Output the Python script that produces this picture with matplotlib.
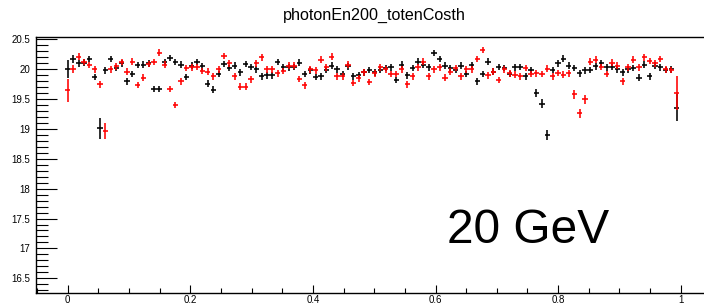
import numpy as np
import matplotlib
matplotlib.use("Agg")
import matplotlib.pyplot as plt
from matplotlib.ticker import MultipleLocator

plt.rcParams['font.family'] = ['Liberation Sans', 'DejaVu Sans']

# bin positions in cos(theta)
n_bins = 114
bin_step = 0.00879
costh = np.arange(n_bins) * bin_step
half_width = 0.0043

# mean total energy, black histogram
black = [20.00, 20.17, 20.10, 20.11, 20.17, 19.87, 19.01, 19.98, 20.17, 20.02,
         20.10, 19.80, 19.92, 20.07, 20.08, 20.10, 19.67, 19.67, 20.12, 20.19,
         20.12, 20.08, 19.87, 20.06, 20.12, 20.05, 19.76, 19.66, 19.92, 20.09,
         20.02, 20.06, 19.95, 20.09, 20.04, 20.00, 19.88, 19.90, 19.90, 20.12,
         20.03, 20.03, 20.04, 20.11, 19.92, 19.98, 19.87, 19.88, 19.99, 20.06,
         20.00, 19.92, 20.05, 19.88, 19.90, 19.95, 19.99, 19.95, 19.99, 20.02,
         20.03, 19.82, 20.08, 19.90, 20.02, 20.13, 20.08, 20.03, 20.27, 20.17,
         20.06, 20.02, 19.99, 20.06, 19.92, 20.07, 19.80, 19.92, 20.13, 19.96,
         20.04, 20.02, 19.92, 20.03, 20.04, 19.88, 19.99, 19.60, 19.42, 18.90,
         19.99, 20.10, 20.18, 20.06, 20.02, 19.93, 19.98, 19.99, 20.05, 20.10,
         20.03, 20.04, 20.00, 19.95, 20.00, 20.02, 19.86, 20.08, 19.88, 20.06,
         20.03, 19.99, 20.00, 19.36]

# mean total energy, red histogram
red = [19.65, 20.00, 20.21, 20.12, 20.07, 20.00, 19.75, 18.97, 20.00, 20.05,
       20.12, 19.96, 20.13, 19.74, 19.86, 20.09, 20.12, 20.28, 20.08, 19.67,
       19.40, 19.80, 20.02, 20.03, 20.04, 19.97, 19.96, 19.88, 20.00, 20.22,
       20.10, 19.88, 19.71, 19.71, 19.83, 20.10, 20.20, 20.00, 20.00, 19.93,
       19.97, 20.06, 20.06, 19.84, 19.73, 20.00, 19.98, 20.16, 20.03, 20.21,
       19.88, 19.88, 20.08, 19.77, 19.85, 19.95, 19.79, 19.93, 20.03, 20.00,
       19.92, 19.92, 20.00, 19.75, 19.88, 20.03, 20.13, 19.88, 20.00, 20.03,
       19.86, 19.96, 20.02, 19.88, 20.00, 20.00, 20.17, 20.32, 19.90, 19.96,
       19.82, 20.00, 19.93, 19.91, 19.88, 20.02, 19.92, 19.93, 19.92, 20.01,
       19.88, 19.94, 19.91, 19.93, 19.58, 19.26, 19.50, 20.13, 20.16, 20.04,
       19.92, 20.11, 20.06, 19.80, 20.03, 20.16, 20.03, 20.20, 20.14, 20.10,
       20.17, 20.00, 19.99, 19.60]

# errors: typical value plus the larger ones
black_err = np.full(n_bins, 0.055)
red_err = np.full(n_bins, 0.055)
black_big = {0: 0.15, 1: 0.065, 6: 0.17, 87: 0.065, 88: 0.075, 89: 0.09, 113: 0.23}
red_big = {0: 0.19, 1: 0.065, 7: 0.13, 94: 0.075, 95: 0.075, 96: 0.075, 113: 0.28}
for k, v in black_big.items():
    black_err[k] = v
for k, v in red_big.items():
    red_err[k] = v

fig = plt.figure(figsize=(7.04, 3.05), dpi=100)
ax = fig.add_axes([0.0518, 0.0403, 0.9482, 0.8394])

ax.errorbar(costh, black, xerr=half_width, yerr=black_err, fmt='none',
            ecolor='black', elinewidth=1.15, capsize=0)
ax.errorbar(costh, red, xerr=half_width, yerr=red_err, fmt='none',
            ecolor='#ff0000', elinewidth=1.15, capsize=0)

ax.set_xlim(-0.051, 1.038)
ax.set_ylim(16.258, 20.546)

ax.xaxis.set_major_locator(MultipleLocator(0.2))
ax.xaxis.set_minor_locator(MultipleLocator(0.05))
ax.yaxis.set_major_locator(MultipleLocator(0.5))
ax.yaxis.set_minor_locator(MultipleLocator(0.1))
ax.xaxis.set_major_formatter(plt.FuncFormatter(lambda v, p: '%g' % round(v, 2)))
ax.yaxis.set_major_formatter(plt.FuncFormatter(lambda v, p: '%g' % round(v, 2)))

ax.tick_params(axis='y', which='major', direction='in', length=15, width=0.8,
               labelsize=7, pad=4.3)
ax.tick_params(axis='y', which='minor', direction='in', length=8.8, width=0.8)
ax.tick_params(axis='x', which='major', direction='in', length=6, width=0.8,
               labelsize=7, pad=2)
ax.tick_params(axis='x', which='minor', direction='in', length=3.8, width=0.8)

for s in ['left', 'bottom', 'top']:
    ax.spines[s].set_linewidth(1.0)
ax.spines['right'].set_visible(False)

fig.text(0.532, 0.951, "photonEn200_totenCosth", ha='center', va='center',
         fontsize=11.6)
ax.text(0.618, 17.09, "20 GeV", ha='left', va='baseline', fontsize=34.5)

fig.savefig("out.png", dpi=100)
